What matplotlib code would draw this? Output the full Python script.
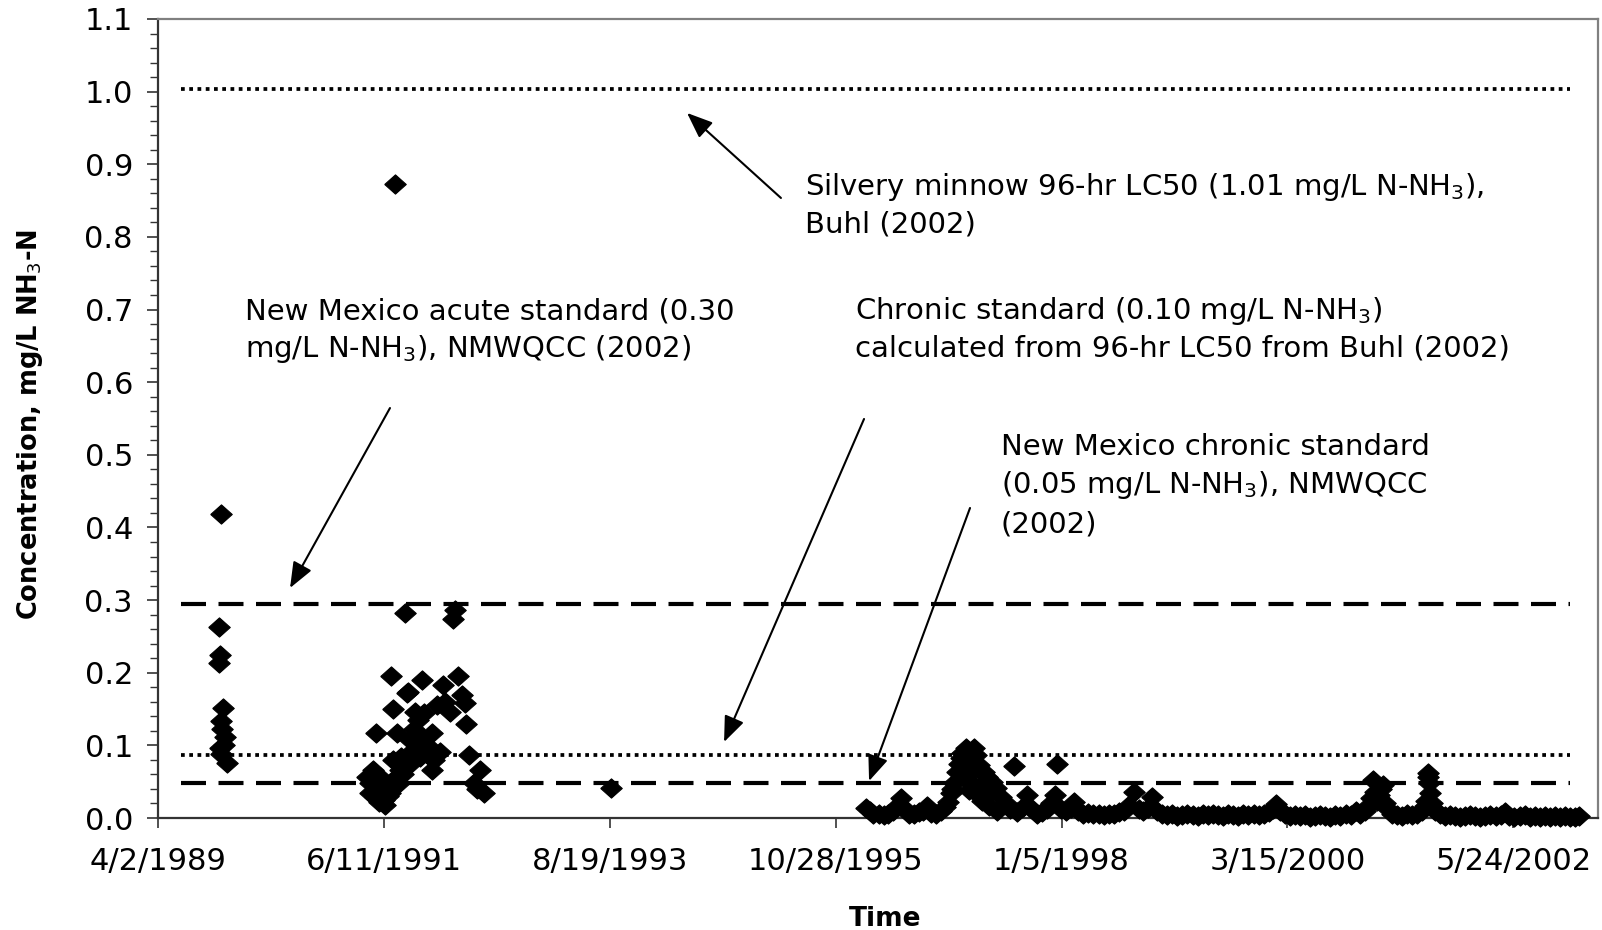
import matplotlib
matplotlib.use('Agg')
import matplotlib.pyplot as plt
import pandas as pd
from matplotlib.ticker import MultipleLocator, FormatStrFormatter

plt.rcParams['font.family'] = ['DejaVu Sans']
plt.rcParams['mathtext.fontset'] = 'dejavusans'

# ---------------- data ----------------
# early samples (late 1989)
dates_1989 = ['1989-11-05', '1989-11-08', '1989-11-05', '1989-11-10', '1989-11-17',
              '1989-11-10', '1989-11-14', '1989-11-25', '1989-11-08', '1989-11-20',
              '1989-12-01', '1989-11-12']
conc_1989 = [0.263, 0.224, 0.213, 0.418, 0.152,
             0.133, 0.122, 0.112, 0.096, 0.100,
             0.076, 0.088]

# 1991-1992 samples
dates_1991 = ['1991-04-12', '1991-04-23', '1991-04-23', '1991-05-05', '1991-05-11',
              '1991-05-15', '1991-05-17', '1991-05-29', '1991-06-05', '1991-06-11',
              '1991-06-16', '1991-06-20', '1991-07-03', '1991-07-07', '1991-07-13',
              '1991-07-15', '1991-07-21', '1991-07-27', '1991-08-02', '1991-08-08',
              '1991-08-19', '1991-08-25', '1991-08-31', '1991-09-06', '1991-09-12',
              '1991-09-12', '1991-09-20', '1991-09-25', '1991-09-30', '1991-10-05',
              '1991-10-11', '1991-10-18', '1991-10-23', '1991-10-28', '1991-11-01',
              '1991-11-10', '1991-11-15', '1991-11-28', '1991-11-28', '1991-12-04',
              '1991-12-16', '1991-12-27', '1992-01-08', '1992-01-15', '1992-02-01',
              '1992-02-12', '1992-02-18', '1992-03-01', '1992-03-13', '1992-03-25',
              '1992-03-28', '1992-04-06', '1992-04-24', '1992-05-05', '1992-05-17',
              '1992-05-29', '1991-07-15', '1991-08-10', '1991-05-24', '1991-06-25']
conc_1991 = [0.057, 0.048, 0.034, 0.066, 0.029,
             0.117, 0.039, 0.057, 0.045, 0.025,
             0.018, 0.040, 0.034, 0.195, 0.150,
             0.052, 0.873, 0.117, 0.048, 0.066,
             0.061, 0.282, 0.172, 0.174, 0.107,
             0.075, 0.092, 0.122, 0.146, 0.100,
             0.135, 0.084, 0.190, 0.110, 0.144,
             0.100, 0.087, 0.117, 0.066, 0.080,
             0.156, 0.091, 0.183, 0.160, 0.146,
             0.274, 0.286, 0.195, 0.169, 0.158,
             0.130, 0.087, 0.048, 0.040, 0.066,
             0.034, 0.080, 0.084, 0.022, 0.030]

# single 1993 sample
dates_1993 = ['1993-08-24']
conc_1993 = [0.041]

# 1996-2003 monitoring record
dates_1996 = ['1996-02-14', '1996-02-25', '1996-03-10', '1996-03-28', '1996-04-15', '1996-05-02',
              '1996-05-18', '1996-06-02', '1996-06-14', '1996-06-28', '1996-07-15', '1996-08-01',
              '1996-08-18', '1996-09-03', '1996-09-16', '1996-10-01', '1996-10-18', '1996-11-03',
              '1996-11-18', '1996-11-28', '1996-12-08', '1996-12-20', '1997-01-01', '1997-01-07',
              '1997-01-19', '1997-01-31', '1997-02-08', '1997-02-17', '1997-02-24', '1997-03-01',
              '1997-03-07', '1997-03-12', '1997-03-19', '1997-03-30', '1997-04-06', '1997-04-17',
              '1997-04-22', '1997-05-05', '1997-05-17', '1997-05-20', '1997-06-03', '1997-06-21',
              '1997-07-08', '1997-07-21', '1997-08-02', '1997-08-20', '1997-09-06', '1997-09-22',
              '1997-10-10', '1997-10-28', '1997-11-14', '1997-11-30', '1997-12-14', '1997-12-21',
              '1998-01-02', '1998-01-20', '1998-02-06', '1998-02-17', '1998-03-05', '1998-03-22',
              '1998-04-10', '1998-04-28', '1998-05-16', '1998-06-03', '1998-06-21', '1998-07-09',
              '1998-07-27', '1998-08-14', '1998-09-01', '1998-09-19', '1998-10-05', '1998-10-22',
              '1998-11-08', '1998-11-23', '1998-12-08', '1998-12-26', '1999-01-13', '1999-02-01',
              '1999-02-19', '1999-03-09', '1999-03-27', '1999-04-14', '1999-05-02', '1999-05-20',
              '1999-06-07', '1999-06-25', '1999-07-13', '1999-07-31', '1999-08-18', '1999-09-05',
              '1999-09-23', '1999-10-11', '1999-10-29', '1999-11-16', '1999-12-04', '1999-12-22',
              '2000-01-09', '2000-01-24', '2000-02-03', '2000-02-16', '2000-03-05', '2000-03-23',
              '2000-04-10', '2000-04-28', '2000-05-16', '2000-06-03', '2000-06-21', '2000-07-09',
              '2000-07-27', '2000-08-14', '2000-09-01', '2000-09-19', '2000-10-07', '2000-10-25',
              '2000-11-13', '2000-11-28', '2000-12-14', '2000-12-28', '2001-01-05', '2001-01-11',
              '2001-01-18', '2001-01-26', '2001-02-03', '2001-02-10', '2001-02-15', '2001-02-22',
              '2001-03-05', '2001-03-20', '2001-04-07', '2001-04-25', '2001-05-13', '2001-05-31',
              '2001-06-18', '2001-07-05', '2001-07-15', '2001-07-20', '2001-07-25', '2001-07-27',
              '2001-07-30', '2001-08-03', '2001-08-10', '2001-08-20', '2001-09-05', '2001-09-23',
              '2001-10-11', '2001-10-29', '2001-11-16', '2001-12-04', '2001-12-22', '2002-01-09',
              '2002-01-27', '2002-02-14', '2002-03-04', '2002-03-22', '2002-04-09', '2002-04-23',
              '2002-05-10', '2002-05-28', '2002-06-15', '2002-07-03', '2002-07-21', '2002-08-08',
              '2002-08-26', '2002-09-13', '2002-10-01', '2002-10-19', '2002-11-06', '2002-11-24',
              '2002-12-12', '2002-12-28', '2003-01-12',
              '1997-02-03', '1997-02-12', '1997-02-28', '1997-03-24', '1997-04-12', '1997-01-13',
              '1997-01-25', '1996-12-14', '1997-05-28']
conc_1996 = [0.014, 0.010, 0.006, 0.005, 0.004, 0.006,
             0.010, 0.016, 0.027, 0.012, 0.006, 0.005,
             0.008, 0.010, 0.016, 0.007, 0.005, 0.009,
             0.015, 0.022, 0.034, 0.048, 0.064, 0.075,
             0.090, 0.096, 0.060, 0.080, 0.045, 0.097,
             0.087, 0.033, 0.073, 0.024, 0.064, 0.057,
             0.016, 0.050, 0.041, 0.010, 0.029, 0.020,
             0.012, 0.071, 0.008, 0.015, 0.031, 0.012,
             0.006, 0.008, 0.012, 0.020, 0.032, 0.075,
             0.012, 0.009, 0.014, 0.022, 0.010, 0.006,
             0.007, 0.005, 0.006, 0.004, 0.005, 0.006,
             0.008, 0.010, 0.018, 0.036, 0.012, 0.009,
             0.014, 0.029, 0.009, 0.005, 0.004, 0.005,
             0.003, 0.004, 0.006, 0.004, 0.003, 0.005,
             0.004, 0.006, 0.004, 0.003, 0.005, 0.004,
             0.003, 0.005, 0.004, 0.006, 0.004, 0.005,
             0.008, 0.012, 0.019, 0.009, 0.005, 0.003,
             0.004, 0.003, 0.004, 0.002, 0.003, 0.004,
             0.003, 0.002, 0.004, 0.003, 0.005, 0.004,
             0.010, 0.006, 0.010, 0.018, 0.028, 0.052,
             0.036, 0.024, 0.032, 0.040, 0.046, 0.020,
             0.012, 0.006, 0.004, 0.003, 0.005, 0.004,
             0.006, 0.010, 0.016, 0.024, 0.062, 0.056,
             0.048, 0.034, 0.020, 0.010, 0.005, 0.003,
             0.004, 0.003, 0.002, 0.003, 0.004, 0.003,
             0.002, 0.003, 0.004, 0.003, 0.004, 0.008,
             0.003, 0.002, 0.003, 0.004, 0.002, 0.003,
             0.002, 0.003, 0.002, 0.003, 0.002, 0.003,
             0.002, 0.002, 0.003,
             0.052, 0.038, 0.068, 0.044, 0.030, 0.082,
             0.070, 0.040, 0.014]

# reference standards (levels as drawn) and the date span of their lines
standard_span = ['1989-06-21', '2002-12-12']
lc50_level = 1.004
acute_level = 0.294
chronic_buhl_level = 0.087
nm_chronic_level = 0.048

# axis
x_limits = ['1989-04-02', '2003-03-20']
x_tick_dates = ['1989-04-02', '1991-06-11', '1993-08-19', '1995-10-28',
                '1998-01-05', '2000-03-15', '2002-05-24']
x_tick_labels = ['4/2/1989', '6/11/1991', '8/19/1993', '10/28/1995',
                 '1/5/1998', '3/15/2000', '5/24/2002']

# ---------------- figure ----------------
fig = plt.figure(figsize=(16.02, 9.30), dpi=100)
ax = fig.add_axes([158 / 1602, 112 / 930, 1440 / 1602, 799 / 930])

span = pd.to_datetime(standard_span)
dot_style = dict(color='black', lw=2.7, linestyle=(0, (1, 1.2)), dash_capstyle='butt', zorder=2)
dash_style = dict(color='black', lw=3.0, linestyle=(0, (6, 3)), dash_capstyle='butt', zorder=2)
ax.plot(span, [lc50_level, lc50_level], **dot_style)
ax.plot(span, [chronic_buhl_level, chronic_buhl_level], **dot_style)
ax.plot(span, [acute_level, acute_level], **dash_style)
ax.plot(span, [nm_chronic_level, nm_chronic_level], **dash_style)

diamond = [(-1.12, 0), (0, 1), (1.12, 0), (0, -1), (-1.12, 0)]
for d, c in [(dates_1989, conc_1989), (dates_1991, conc_1991),
             (dates_1993, conc_1993), (dates_1996, conc_1996)]:
    ax.plot(pd.to_datetime(d), c, linestyle='none', marker=diamond, ms=15.5,
            color='black', mec='black', mew=0.8, clip_on=False, zorder=3)

ax.set_xlim(pd.to_datetime(x_limits))
ax.set_xticks(pd.to_datetime(x_tick_dates))
ax.set_xticklabels(x_tick_labels)
ax.set_ylim(0, 1.1)
ax.yaxis.set_major_locator(MultipleLocator(0.1))
ax.yaxis.set_minor_locator(MultipleLocator(0.02))
ax.yaxis.set_major_formatter(FormatStrFormatter('%.1f'))
ax.xaxis.set_minor_locator(matplotlib.ticker.NullLocator())

ax.tick_params(axis='y', which='major', direction='out', length=8, width=1.2,
               labelsize=22, pad=10, color='#333333')
ax.tick_params(axis='y', which='minor', direction='out', length=6, width=1.0, color='#333333')
ax.tick_params(axis='x', which='major', direction='out', length=7, width=1.2,
               labelsize=22, pad=14, color='#333333')

for s in ['left', 'bottom']:
    ax.spines[s].set_color('#333333')
    ax.spines[s].set_linewidth(1.6)
for s in ['top', 'right']:
    ax.spines[s].set_color('#808080')
    ax.spines[s].set_linewidth(1.6)

ax.set_ylabel('Concentration, mg/L NH$_3$-N', fontsize=18.5, fontweight='bold', va='center')
ax.yaxis.set_label_coords(-0.0889, 0.492)
ax.set_xlabel('Time', fontsize=19, fontweight='bold', va='center')
ax.xaxis.set_label_coords(0.5049, -0.1260)

# annotations (axes-fraction positions)
tfs = 21
def lines(x, ys, texts):
    for y, t in zip(ys, texts):
        ax.text(x, y, t, transform=ax.transAxes, fontsize=tfs, ha='left', va='baseline')

lines(0.4493, [0.7797, 0.7322],
      ['Silvery minnow 96-hr LC50 (1.01 mg/L N-NH$_3$),', 'Buhl (2002)'])
lines(0.4840, [0.6245, 0.5770],
      ['Chronic standard (0.10 mg/L N-NH$_3$)', 'calculated from 96-hr LC50 from Buhl (2002)'])
lines(0.0604, [0.6245, 0.5770],
      ['New Mexico acute standard (0.30', 'mg/L N-NH$_3$), NMWQCC (2002)'])
lines(0.5854, [0.4543, 0.4068, 0.3579],
      ['New Mexico chronic standard', '(0.05 mg/L N-NH$_3$), NMWQCC', '(2002)'])

arrows = [((0.4326, 0.7760), (0.3674, 0.8824)),
          ((0.1611, 0.5131), (0.0917, 0.2879)),
          ((0.4903, 0.4994), (0.3931, 0.0951)),
          ((0.5639, 0.3880), (0.4938, 0.0463))]
for tail, tip in arrows:
    ax.annotate('', xy=tip, xytext=tail, xycoords='axes fraction', textcoords='axes fraction',
                arrowprops=dict(arrowstyle='-|>,head_length=0.45,head_width=0.18',
                                mutation_scale=35, lw=1.5, color='black',
                                shrinkA=0, shrinkB=0))

fig.savefig('out.png', dpi=100, facecolor='white')
